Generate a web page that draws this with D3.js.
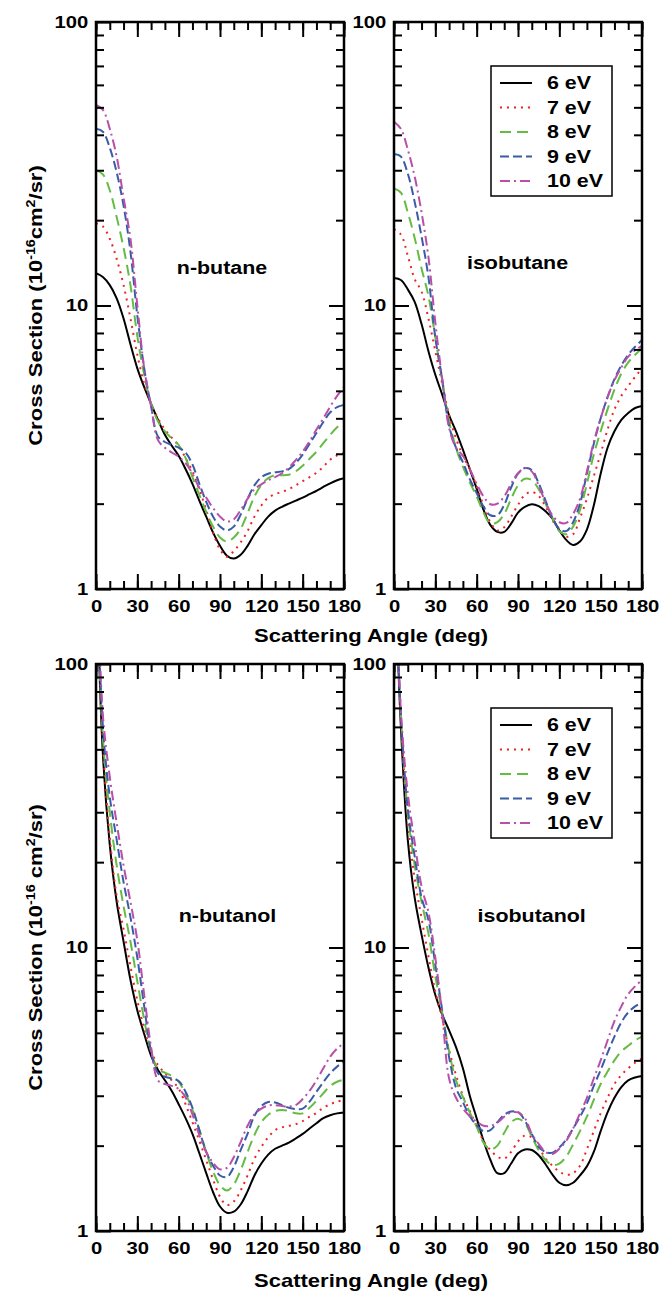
<!DOCTYPE html>
<html>
<head>
<meta charset="utf-8">
<script src="https://cdn.jsdelivr.net/npm/d3@7"></script>
<style>
  body { margin: 0; background: #fff; }
  text { font-family: "Liberation Sans", Arial, Helvetica, sans-serif; font-weight: bold; fill: #000; }
</style>
</head>
<body>
<div id="chart"></div>
<script>
// scattering angle grid (deg)
var angles = [0,5,10,15,20,25,30,35,40,45,50,55,60,65,70,75,80,85,90,95,100,105,110,115,120,125,130,135,140,145,150,155,160,165,170,175,180];

var energies = ['6 eV', '7 eV', '8 eV', '9 eV', '10 eV'];
var xTicks = [0, 30, 60, 90, 120, 150, 180];
var yTicks = [1, 10, 100];

// n-butane
var nbutane6  = [13.0,12.6,11.8,10.6,9.0,7.3,6.0,5.15,4.5,3.95,3.5,3.2,2.95,2.65,2.35,2.05,1.8,1.58,1.42,1.31,1.28,1.32,1.42,1.56,1.68,1.8,1.89,1.95,2.0,2.05,2.1,2.16,2.22,2.29,2.36,2.42,2.46];
var nbutane7  = [19.5,19.0,17.2,14.6,11.8,9.0,6.7,5.3,4.5,4.0,3.65,3.42,3.2,2.9,2.6,2.25,1.9,1.58,1.38,1.3,1.36,1.46,1.6,1.8,1.97,2.1,2.16,2.2,2.25,2.32,2.4,2.48,2.57,2.7,2.86,2.96,3.02];
var nbutane8  = [30,29,25.5,20.5,16,11.8,7.8,5.7,4.5,3.9,3.6,3.4,3.22,2.9,2.48,2.15,1.87,1.66,1.52,1.47,1.52,1.63,1.85,2.12,2.33,2.46,2.52,2.52,2.53,2.6,2.72,2.88,3.05,3.27,3.5,3.72,3.88];
var nbutane9  = [42,41,36,29.5,22.5,15.5,9.2,6.0,4.4,3.45,3.3,3.22,3.15,3.03,2.75,2.35,2.03,1.8,1.66,1.61,1.66,1.83,2.08,2.32,2.48,2.55,2.58,2.6,2.65,2.78,2.98,3.25,3.55,3.88,4.2,4.38,4.46];
var nbutane10 = [51,49,42,33.5,24,17.2,10.0,6.0,4.4,3.35,3.15,3.03,2.93,2.78,2.55,2.27,2.1,1.93,1.8,1.73,1.76,1.9,2.08,2.25,2.34,2.42,2.48,2.56,2.68,2.85,3.05,3.32,3.65,4.0,4.4,4.8,5.15];

// isobutane
var isobutane6  = [12.5,12.3,11.4,10.3,8.6,6.9,5.7,4.85,4.1,3.6,3.1,2.65,2.26,1.9,1.68,1.59,1.59,1.7,1.86,1.95,1.99,1.96,1.88,1.77,1.61,1.49,1.43,1.47,1.62,1.97,2.55,3.15,3.6,3.95,4.18,4.35,4.42];
var isobutane7  = [18.6,17.8,15.0,12.4,11.2,9.0,6.9,5.3,4.1,3.4,2.95,2.65,2.3,1.97,1.72,1.61,1.65,1.8,1.98,2.15,2.2,2.13,1.95,1.75,1.62,1.53,1.56,1.78,2.08,2.5,3.0,3.65,4.3,4.8,5.2,5.6,6.0];
var isobutane8  = [25.9,25.0,21.3,17.3,13.5,10.8,7.7,5.4,3.9,3.15,2.7,2.38,2.12,1.86,1.7,1.72,1.84,2.08,2.32,2.45,2.42,2.25,2.0,1.78,1.6,1.56,1.66,1.9,2.35,2.98,3.6,4.3,5.05,5.75,6.3,6.7,7.05];
var isobutane9  = [34.2,33.5,29.2,23.2,17.5,12.6,7.7,5.5,3.75,3.15,2.8,2.44,2.18,1.95,1.82,1.82,1.98,2.28,2.55,2.67,2.63,2.36,2.05,1.78,1.63,1.6,1.72,2.0,2.55,3.25,4.0,4.75,5.5,6.15,6.7,7.15,7.55];
var isobutane10 = [44.5,42,35.5,28.5,21.3,14.8,8.7,5.5,3.7,3.15,2.95,2.65,2.35,2.12,1.99,2.0,2.12,2.35,2.56,2.67,2.6,2.32,2.02,1.82,1.72,1.71,1.84,2.08,2.6,3.3,4.0,4.75,5.45,6.05,6.6,6.95,7.2];

// n-butanol
var nbutanol6  = [250,48,23,14.5,10.5,7.7,6.0,4.95,4.15,3.7,3.4,3.12,2.8,2.5,2.2,1.88,1.6,1.37,1.22,1.16,1.17,1.24,1.38,1.57,1.73,1.86,1.95,2.0,2.05,2.12,2.2,2.3,2.4,2.5,2.56,2.6,2.62];
var nbutanol7  = [250,52,24.5,15.2,11.6,8.6,6.5,5.15,4.3,3.85,3.6,3.4,3.18,2.8,2.42,2.08,1.78,1.52,1.32,1.235,1.27,1.39,1.57,1.8,1.98,2.14,2.27,2.32,2.35,2.38,2.44,2.53,2.61,2.72,2.8,2.86,2.9];
var nbutanol8  = [250,55,30,19.5,14.0,10.5,7.6,5.55,4.3,3.72,3.62,3.52,3.36,3.05,2.68,2.28,1.9,1.62,1.45,1.39,1.46,1.64,1.9,2.18,2.42,2.57,2.65,2.67,2.65,2.6,2.6,2.72,2.88,3.06,3.25,3.36,3.42];
var nbutanol9  = [250,60,34,24,17,12.8,9.2,6.2,4.3,3.6,3.5,3.45,3.38,3.1,2.72,2.27,1.9,1.7,1.57,1.55,1.68,1.93,2.2,2.55,2.76,2.85,2.84,2.78,2.72,2.69,2.7,2.86,3.1,3.35,3.6,3.8,3.96];
var nbutanol10 = [250,66,40,27.5,19.5,14.5,10.6,6.8,4.45,3.4,3.3,3.25,3.17,2.96,2.58,2.18,1.9,1.74,1.65,1.67,1.82,2.06,2.35,2.58,2.7,2.77,2.78,2.76,2.75,2.78,2.92,3.12,3.4,3.75,4.12,4.4,4.6];

// isobutanol
var isobutanol6  = [280,60,24,15,11.1,8.5,6.8,5.8,5.1,4.45,3.75,3.0,2.5,2.08,1.78,1.6,1.6,1.73,1.88,1.94,1.93,1.85,1.72,1.58,1.48,1.45,1.48,1.57,1.69,1.9,2.25,2.62,2.95,3.22,3.4,3.48,3.52];
var isobutanol7  = [280,63,28,17.5,12.7,9.3,7.0,5.6,4.35,3.55,3.0,2.65,2.35,2.08,1.93,1.83,1.8,1.9,2.07,2.17,2.14,1.98,1.8,1.7,1.62,1.58,1.6,1.7,1.94,2.25,2.6,2.95,3.3,3.55,3.75,3.92,4.06];
var isobutanol8  = [280,66,30,19.5,14.5,11.2,7.9,5.9,4.3,3.4,2.97,2.62,2.33,2.05,1.94,2.0,2.22,2.42,2.49,2.4,2.15,1.93,1.78,1.71,1.73,1.83,2.02,2.25,2.53,2.9,3.3,3.65,4.0,4.3,4.5,4.7,4.85];
var isobutanol9  = [280,66,31,21,15.0,12.5,8.7,6.0,4.1,3.2,2.85,2.54,2.36,2.25,2.27,2.42,2.57,2.64,2.63,2.45,2.2,1.98,1.9,1.89,1.97,2.1,2.3,2.53,2.82,3.25,3.7,4.25,4.85,5.45,5.9,6.2,6.4];
var isobutanol10 = [280,68,35,23.5,16.4,13.3,9.2,5.8,3.45,2.95,2.7,2.54,2.43,2.35,2.35,2.41,2.53,2.62,2.62,2.5,2.2,2.03,1.9,1.87,1.95,2.08,2.3,2.6,2.95,3.45,4.0,4.7,5.5,6.2,6.85,7.3,7.68];

// line styles per energy
var colors = ['#000000', '#ee2222', '#66bb44', '#3a5ca8', '#b84fa8'];
var dashes = [null, '2,5', '11,6', '9,4', '10,4,2,4'];

var width = 661, height = 1293;
var panelW = 248, panelH = 567;
var stretch = 'scale(1.19,1)';

var panels = [
  {left: 96,  top: 22,  name: 'n-butane',   nx: 126,   ny: 252, series: [nbutane6, nbutane7, nbutane8, nbutane9, nbutane10], legend: false, ytitle: 'a'},
  {left: 394, top: 22,  name: 'isobutane',  nx: 123.5, ny: 247, series: [isobutane6, isobutane7, isobutane8, isobutane9, isobutane10], legend: true},
  {left: 96,  top: 664, name: 'n-butanol',  nx: 131.5, ny: 258, series: [nbutanol6, nbutanol7, nbutanol8, nbutanol9, nbutanol10], legend: false, ytitle: 'b'},
  {left: 394, top: 664, name: 'isobutanol', nx: 137.7, ny: 258, series: [isobutanol6, isobutanol7, isobutanol8, isobutanol9, isobutanol10], legend: true}
];

var svg = d3.select('#chart')
  .append('svg')
  .attr('width', width)
  .attr('height', height);

var x = d3.scaleLinear().domain([0, 180]).range([0, panelW]);
var y = d3.scaleLog().domain([1, 100]).range([panelH, 0]);

var minorX = d3.range(0, 181, 10);
var minorY = [2,3,4,5,6,7,8,9,20,30,40,50,60,70,80,90];

var line = d3.line()
  .x(function(d) { return x(d[0]); })
  .y(function(d) { return y(d[1]); })
  .curve(d3.curveCatmullRom.alpha(0.5));

panels.forEach(function(p, i) {
  var g = svg.append('g')
    .attr('transform', 'translate(' + p.left + ',' + p.top + ')');

  svg.append('clipPath').attr('id', 'clip' + i)
    .append('rect').attr('width', panelW).attr('height', panelH);

  // curves
  var plot = g.append('g').attr('clip-path', 'url(#clip' + i + ')');
  p.series.forEach(function(s, k) {
    plot.append('path')
      .datum(d3.zip(angles, s))
      .attr('d', line)
      .attr('fill', 'none')
      .attr('stroke', colors[k])
      .attr('stroke-width', 2)
      .attr('stroke-dasharray', dashes[k]);
  });

  // ticks, inside on all four sides
  function tickAxis(axis, tr, size, vals, labels) {
    var a = axis.tickValues(vals).tickSizeInner(-size).tickSizeOuter(0);
    if (!labels) a.tickFormat('');
    var ga = g.append('g').attr('transform', tr).call(a);
    ga.select('.domain').remove();
    ga.selectAll('.tick line').attr('stroke-width', 2);
    return ga;
  }
  var bx = tickAxis(d3.axisBottom(x).tickPadding(11), 'translate(0,' + panelH + ')', 15, xTicks, true);
  bx.selectAll('text').style('font-size', '17px').attr('transform', stretch);
  tickAxis(d3.axisBottom(x), 'translate(0,' + panelH + ')', 8, minorX, false);
  tickAxis(d3.axisTop(x), '', 15, xTicks, false);
  tickAxis(d3.axisTop(x), '', 8, minorX, false);

  var ly = tickAxis(d3.axisLeft(y).tickFormat(d3.format('d')).tickPadding(6.5), '', 15, yTicks, true);
  ly.selectAll('text').style('font-size', '17px').attr('transform', stretch);
  tickAxis(d3.axisLeft(y), '', 8, minorY, false);
  tickAxis(d3.axisRight(y), 'translate(' + panelW + ',0)', 15, yTicks, false);
  tickAxis(d3.axisRight(y), 'translate(' + panelW + ',0)', 8, minorY, false);

  g.append('rect')
    .attr('width', panelW).attr('height', panelH)
    .attr('fill', 'none').attr('stroke', '#000').attr('stroke-width', 2.5);

  // molecule label
  g.append('text')
    .attr('transform', 'translate(' + p.nx + ',' + p.ny + ') ' + stretch)
    .attr('text-anchor', 'middle')
    .style('font-size', '18px')
    .text(p.name);

  if (p.legend) {
    var lg = g.append('g').attr('transform', 'translate(97,44)');
    lg.append('rect')
      .attr('width', 121).attr('height', 130)
      .attr('fill', '#fff').attr('stroke', '#000').attr('stroke-width', 1.5);
    energies.forEach(function(e, k) {
      var ry = 17 + k * 24.5;
      lg.append('line')
        .attr('x1', 9).attr('x2', 41).attr('y1', ry).attr('y2', ry)
        .attr('stroke', colors[k]).attr('stroke-width', 2)
        .attr('stroke-dasharray', dashes[k]);
      lg.append('text')
        .attr('transform', 'translate(56,' + ry + ') ' + stretch)
        .attr('dy', '0.36em')
        .style('font-size', '18px')
        .text(e);
    });
  }

  if (p.ytitle) {
    var t = svg.append('text')
      .attr('transform', 'translate(42,' + (p.top + panelH / 2) + ') rotate(-90) ' + stretch)
      .attr('text-anchor', 'middle')
      .style('font-size', '18.5px');
    t.append('tspan').text('Cross Section (10');
    t.append('tspan').attr('dy', -7).style('font-size', '12px').text('-16');
    t.append('tspan').attr('dy', 7).text(p.ytitle === 'a' ? 'cm' : ' cm');
    t.append('tspan').attr('dy', -7).style('font-size', '12px').text('2');
    t.append('tspan').attr('dy', 7).text('/sr)');
  }
});

// x titles, one per row
[642, 1287].forEach(function(by) {
  svg.append('text')
    .attr('transform', 'translate(371,' + by + ') ' + stretch)
    .attr('text-anchor', 'middle')
    .style('font-size', '18.5px')
    .text('Scattering Angle (deg)');
});
</script>
</body>
</html>
